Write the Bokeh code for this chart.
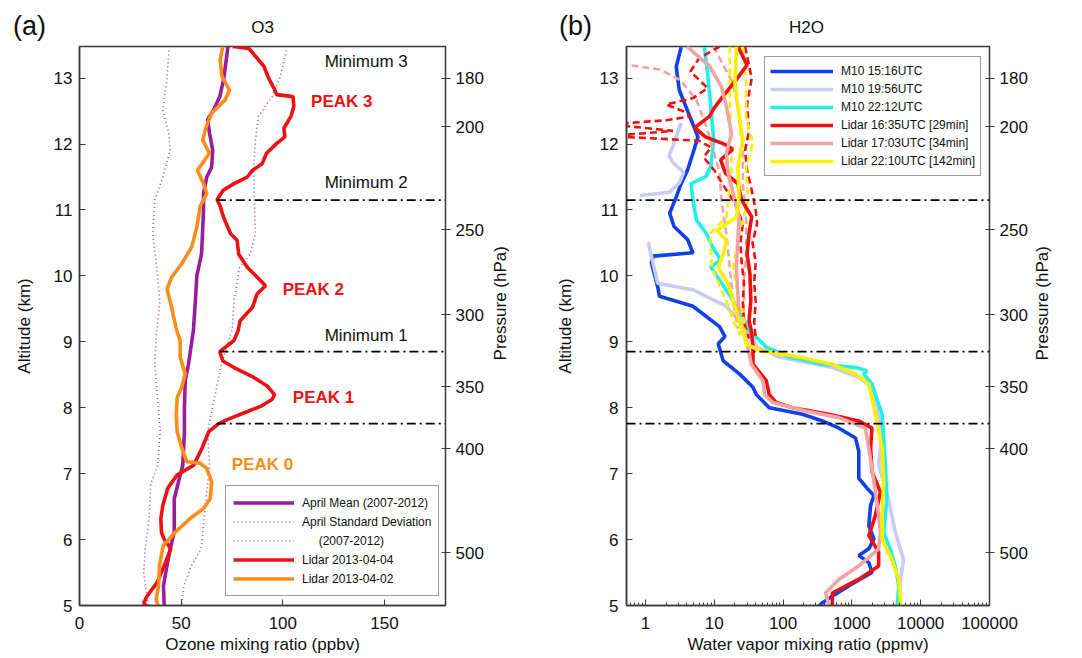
import math
from bokeh.plotting import figure
from bokeh.models import (LinearAxis, FixedTicker, Label, Legend, LegendItem,
                          PrintfTickFormatter, Range1d, Span)
from bokeh.layouts import row, column
from bokeh.embed import file_html
from bokeh.resources import INLINE

NaN = float("nan")

# ---------------- axis tick data ----------------
altitude_ticks = [5, 6, 7, 8, 9, 10, 11, 12, 13]
pressure_labels = [180, 200, 250, 300, 350, 400, 500]
pressure_alt_km = [13.0, 12.26, 10.70, 9.41, 8.32, 7.38, 5.80]
ozone_ticks = [0, 50, 100, 150]
h2o_ticks = [1, 10, 100, 1000, 10000, 100000]

# ---------------- panel (a): ozone, ppbv ----------------
mean_alt = [13.48, 13.0, 12.72, 12.52, 12.37, 12.16, 11.91, 11.65, 11.5, 11.25, 11.0, 10.64, 10.33,
            10.0, 9.62, 9.17, 8.66, 8.41, 8.0, 7.64, 7.13, 6.88, 6.62, 6.11, 5.86, 5.6, 5.3, 4.96]
mean_o3 = [73, 71, 69, 66, 63, 64, 65.5, 65, 62.6, 61, 61, 60.5, 60,
           57.7, 57, 56, 53.6, 52, 51.6, 51.6, 50.8, 48.7, 46.6, 46.6, 44.6, 43, 41.3, 41.7]

sd_lo_alt = [13.42, 13.0, 12.5, 12.16, 11.91, 11.5, 11.15, 10.64, 10.13, 9.6, 9.17, 8.66, 8.15,
             7.64, 7.13, 6.83, 6.37, 5.86, 5.5, 5.1, 4.96]
sd_lo_o3 = [44, 43, 41, 44, 44.6, 41, 37, 36, 38, 39.5, 38, 37, 38.4,
            39.7, 38.4, 35, 34.4, 32.3, 31.6, 33.3, 34]
sd_hi_alt = [13.42, 13.0, 12.72, 12.42, 12.06, 11.65, 11.15, 10.64, 10.33, 10.13, 9.62, 9.17, 8.66,
             8.15, 7.64, 7.13, 6.62, 6.11, 5.86, 5.6, 5.3, 4.96]
sd_hi_o3 = [101.8, 98.5, 94.7, 88, 86.5, 85.7, 86, 86.5, 84, 78.7, 76, 75, 69.7,
            66.4, 63, 64, 62.3, 60.6, 59.8, 55, 51.3, 50]

lidar0404_alt = [13.48, 13.45, 13.18, 13.0, 12.85, 12.75, 12.72, 12.57, 12.42, 12.24, 12.11, 12.01,
                 11.86, 11.7, 11.6, 11.5, 11.4, 11.3, 11.16, 11.05, 10.9, 10.64, 10.54, 10.33, 10.13,
                 9.98, 9.85, 9.73, 9.52, 9.32, 9.17, 9.02, 8.85, 8.71, 8.61, 8.46, 8.33, 8.2, 8.13,
                 8.02, 7.92, 7.82, 7.76, 7.64, 7.39, 7.13, 6.98, 6.78, 6.52, 6.32, 6.11, 6.01, 5.86,
                 5.6, 5.35, 5.14, 5.04, 4.96]
lidar0404_o3 = [75.4, 83.3, 90.7, 93, 95.6, 97, 105, 105.4, 104, 100.5, 101, 97,
                92, 89.8, 85, 82.5, 76, 70.7, 67.7, 69.3, 70.7, 74.3, 77.5, 78.3, 82.5,
                87.4, 91.5, 87.4, 85, 79, 78, 76, 69, 70.5, 76, 85.7, 92.3, 95.9, 94.8,
                89, 80.8, 72.6, 68.5, 63.6, 60.3, 56.2, 48, 43.4, 41, 40, 40.3, 41.6, 44.9,
                41.6, 38.2, 33.2, 31.6, 34]

lidar0402_alt = [13.48, 13.28, 13.03, 12.82, 12.67, 12.47, 12.26, 12.06, 11.86, 11.6, 11.4, 11.25,
                 11.05, 10.74, 10.44, 10.18, 9.98, 9.8, 9.52, 9.17, 9.02, 8.77, 8.51, 8.31, 8.15,
                 7.9, 7.64, 7.39, 7.18, 7.16, 7.08, 6.88, 6.62, 6.47, 6.32, 6.11, 5.91, 5.6, 5.3,
                 5.09, 4.96]
lidar0402_o3 = [70.5, 69.2, 70, 73.8, 71.6, 65, 62.3, 60.6, 63.9, 58, 61, 62.6,
                59.3, 57.7, 55.2, 50.2, 45.3, 43.1, 45.3, 47.8, 49.5, 49.5, 52, 50.3, 48,
                47.6, 48, 50.3, 52.8, 59.3, 62.6, 65, 64.3, 61, 54.4, 47, 41.2, 39.3, 38.9,
                37.7, 38.9]

# boundaries of the ozone layers (altitude, km) and the ozone value where the line starts
boundary_alt = [11.15, 8.85, 7.76]
boundary_o3 = [67.5, 68.8, 67.5]

# ---------------- panel (b): water vapour, ppmv ----------------
m10_1516_alt = [13.47, 13.17, 12.82, 12.42, 12.11, 11.86, 11.61, 11.4, 11.2, 10.95, 10.75, 10.55,
                10.35, 10.3, 10.2, 9.84, 9.69, 9.54, 9.23, 9.08, 8.97, 8.71, 8.51, 8.31, 8.2, 8.0,
                7.9, 7.8, 7.69, 7.54, 7.34, 6.93, 6.78, 6.67, 6.52, 6.21, 6.01, 5.86, 5.76, 5.65,
                5.5, 5.3, 5.14, 5.04, 4.97]
m10_1516_h2o = [3.3, 2.8, 3.1, 4.4, 5.8, 4.9, 4.1, 3.3, 2.8, 2.25, 2.6, 4.1,
                4.9, 1.3, 1.22, 1.5, 1.6, 4.9, 11.9, 14.3, 11.4, 13.5, 23.4, 36.5, 40.8, 63,
                192, 373, 650, 1130, 1260, 1260, 1660, 2090, 1870, 1760, 2090, 1760, 1260, 1760,
                1960, 910, 520, 373, 316]

m10_1956_alt = [12.32, 11.97, 11.82, 11.72, 11.57, 11.41, 11.27, 11.22, NaN, 10.51, 9.89, 9.79,
                9.54, 9.19, 9.07, 8.92, 8.77, 8.61, 8.46, 8.31, 7.64, 7.13, 6.62, 6.11, 5.7, 5.4,
                5.09, 4.97]
m10_1956_h2o = [3.3, 2.5, 2.2, 2.5, 3.6, 3.1, 2.25, 0.83, NaN, 1.1, 1.5, 4.9,
                14.8, 30, 36, 42, 88, 520, 1260, 1960, 2750, 2450, 3400, 4260, 5640, 5100,
                4800, 4800]

m10_2212_alt = [13.47, 13.07, 12.57, 12.06, 11.66, 11.51, 11.4, 11.15, 10.85, 10.65, 10.45, 10.24,
                10.14, 9.94, 9.64, 9.29, 9.17, 8.92, 8.77, 8.66, 8.61, 8.56, 8.51, 8.36, 7.9, 7.13,
                6.62, 6.11, 5.86, 5.6, 5.3, 4.99]
m10_2212_h2o = [7.2, 8.0, 8.9, 9.8, 8.9, 7.6, 4.6, 4.9, 5.5, 7.6, 9.3, 12.4,
                8.9, 11.8, 18.5, 28.7, 32.6, 57, 123, 373, 1130, 1660, 1490, 1960, 2750, 3060,
                3230, 2900, 3600, 4260, 4800, 4560]

lidar1635_alt = [13.48, 13.2, 12.95, 12.72, 12.55, 12.42, 12.25, 12.11, 12.0, 11.92, 11.76, 11.56,
                 11.4, 11.15, 10.9, 10.64, 10.33, 10.03, 9.62, 9.32, 9.17, 8.92, 8.66, 8.41, 8.2,
                 8.08, 8.0, 7.9, 7.8, 7.69, 7.39, 7.03, 6.72, 6.37, 6.06, 5.81, 5.6, 5.4, 5.19, 4.99]
lidar1635_h2o = [22, 30, 20, 13.3, 10, 8.5, 5.2, 7.4, 14, 18.5, 12.4, 14.5,
                 22, 25, 35, 32, 30, 33, 34, 32, 34.5, 36.5, 36.5, 57, 63,
                 79, 137, 465, 1260, 1960, 1870, 1960, 2600, 2200, 1760, 2450, 2450, 1260, 520, 520]
lidar1635_lo_alt = [13.48, 13.3, 13.1, 12.85, 12.7, 12.6, 12.5, 12.42, 12.36, 12.3, 12.2, 12.12,
                    12.05, 11.95, 11.8, 11.6, 11.35, 11.1, 10.8, 10.5, 10.2, 9.9, 9.6, 9.3, 9.05]
lidar1635_lo_h2o = [12, 6, 4.5, 8, 5, 2, 3.5, 4.5, 2, 0.3, 2.5, 0.3,
                    6, 9, 7, 10, 14, 20, 26, 24, 25, 27, 26, 27, 32]
lidar1635_hi_alt = [13.48, 13.0, 12.6, 12.2, 11.9, 11.6, 11.3, 11.0, 10.8, 10.5, 10.2, 9.9, 9.6,
                    9.3, 9.05]
lidar1635_hi_h2o = [28, 35, 30, 32, 28, 30, 35, 40, 42, 36, 40, 38, 40, 38, 40]

lidar1703_alt = [13.48, 13.18, 12.87, 12.57, 12.16, 11.86, 11.55, 11.25, 10.89, 10.54, 10.13, 9.73,
                 9.32, 9.17, 8.92, 8.66, 8.41, 8.2, 8.08, 7.95, 7.85, 7.69, 7.39, 6.88, 6.37, 6.11,
                 5.86, 5.6, 5.4, 5.19, 4.99]
lidar1703_h2o = [4.0, 8.6, 12.7, 15, 17.8, 15, 15.9, 18.8, 23, 22, 21, 22,
                 23, 26, 30.8, 34.5, 51, 54, 71, 214, 650, 1570, 1760, 2090, 2450, 2600,
                 2450, 1260, 650, 415, 465]
lidar1703_lo_alt = [13.23, 13.2, 13.13, 12.97, 12.67, 12.26, 11.91, 11.55, 11.15, 10.64, 10.13,
                    9.62, 9.2]
lidar1703_lo_h2o = [0.3, 0.56, 1.65, 3.2, 5.5, 7.7, 9.7, 12, 12.7, 15, 16.8, 18.8, 22]
lidar1703_hi_alt = [13.48, 12.92, 12.42, 11.91, 11.4, 10.89, 10.39, 9.88, 9.37, 9.1]
lidar1703_hi_h2o = [9.7, 18.8, 23, 26, 26, 29, 29, 27, 27, 30]

lidar2210_alt = [13.48, 12.92, 12.42, 12.06, 11.65, 11.15, 10.89, 10.69, 10.54, 10.33, 10.13, 9.88,
                 9.62, 9.32, 9.17, 8.97, 8.87, 8.77, 8.66, 8.51, 8.36, 7.9, 7.39, 6.88, 6.37, 6.01,
                 5.7, 5.4, 4.99]
lidar2210_h2o = [21, 20, 23, 26, 22, 23, 21, 10.8, 15, 13.5, 11.4, 15.9,
                 18.8, 23, 26, 29, 45, 172, 520, 1130, 1760, 2200, 2750, 2900, 2750, 2750,
                 3800, 4800, 5100]
lidar2210_lo_alt = [13.48, 12.67, 11.65, 10.89, 10.64, 10.13, 9.62, 9.32, 9.1]
lidar2210_lo_h2o = [16.8, 16.8, 17.8, 15, 8.6, 9.2, 15, 18.8, 24]
lidar2210_hi_alt = [13.48, 12.92, 12.42, 12.01, 11.65, 11.15, 10.64, 10.13, 9.62, 9.32, 9.1]
lidar2210_hi_h2o = [26, 29, 29, 36.5, 29, 31, 23, 18.8, 23, 27, 28]

# ---------------- styling ----------------
FONT = "Liberation Sans"
INK = "#111111"
AXIS = "#3a3a3a"
PURPLE = "#9b1d9b"
SDPURPLE = "#b545b5"
RED = "#ee1111"
ORANGE = "#ff8c1a"
BLUE = "#1040e8"
LAVENDER = "#c8cbf2"
CYAN = "#22eeee"
PINK = "#f4a3a3"
YELLOW = "#ffee00"

Y_RANGE = (5.0, 13.48)
HEAD_H = 44          # header strip with panel letter and title
MAIN_H = 614         # main plots
TOP, BOTTOM = 2, 53


def text_strip(width, height):
    """A blank svg canvas whose data units are pixels (y downward), for outside texts."""
    f = figure(width=width, height=height, x_range=Range1d(0, width), y_range=Range1d(height, 0),
               x_axis_location=None, y_axis_location=None, min_border=0,
               toolbar_location=None, output_backend="svg", outline_line_color=None)
    f.grid.visible = False
    f.background_fill_color = "white"
    f.border_fill_color = "white"
    return f


def text_label(p, **kw):
    args = dict(text_font=FONT, text_font_size="17px", text_color=INK,
                text_align="center", text_baseline="middle")
    args.update(kw)
    p.add_layout(Label(**args))


def base_axes(p):
    p.grid.visible = False
    p.outline_line_color = AXIS
    p.outline_line_width = 1.5
    p.background_fill_color = "white"
    p.border_fill_color = "white"
    for ax in (p.xaxis[0], p.yaxis[0]):
        ax.axis_line_color = AXIS
        ax.axis_line_width = 1.5
        ax.major_tick_line_color = AXIS
        ax.minor_tick_line_color = AXIS
        ax.major_tick_in = 6
        ax.major_tick_out = 0
        ax.minor_tick_in = 0
        ax.minor_tick_out = 0
        ax.major_label_text_font = FONT
        ax.major_label_text_font_size = "17px"
        ax.major_label_text_color = INK
        ax.axis_label_text_font = FONT
        ax.axis_label_text_font_size = "17px"
        ax.axis_label_text_font_style = "normal"
        ax.axis_label_text_color = INK
    p.yaxis[0].ticker = FixedTicker(ticks=altitude_ticks)
    p.yaxis[0].axis_label = "Altitude (km)"
    p.xaxis[0].major_label_standoff = 11
    p.xaxis[0].axis_label_standoff = 3
    # pressure axis on the right
    rax = LinearAxis(ticker=FixedTicker(ticks=pressure_alt_km),
                     major_label_overrides={a: str(v) for a, v in zip(pressure_alt_km, pressure_labels)})
    rax.axis_line_color = None
    rax.major_tick_line_color = AXIS
    rax.major_tick_in = 4
    rax.major_tick_out = 5
    rax.minor_tick_in = 0
    rax.minor_tick_out = 0
    rax.major_label_standoff = 5
    rax.major_label_text_font = FONT
    rax.major_label_text_font_size = "17px"
    rax.major_label_text_color = INK
    p.add_layout(rax, "right")


# ======== panel (a) ========
pa = figure(width=486, height=MAIN_H, x_range=Range1d(0, 180), y_range=Range1d(*Y_RANGE),
            output_backend="svg", toolbar_location=None,
            min_border_left=79, min_border_right=40, min_border_top=TOP, min_border_bottom=BOTTOM)
base_axes(pa)
pa.xaxis[0].ticker = FixedTicker(ticks=ozone_ticks)
pa.xaxis[0].axis_label = "Ozone mixing ratio (ppbv)"
pa.yaxis[0].major_label_standoff = 7
pa.yaxis[0].axis_label_standoff = 17

r_sdl = pa.line(sd_lo_o3, sd_lo_alt, line_color=SDPURPLE, line_width=1.6, line_dash="1 3")
r_sdh = pa.line(sd_hi_o3, sd_hi_alt, line_color=SDPURPLE, line_width=1.6, line_dash="1 3")
r_mean = pa.line(mean_o3, mean_alt, line_color=PURPLE, line_width=3.6)
r_0404 = pa.line(lidar0404_o3, lidar0404_alt, line_color=RED, line_width=3.6)
r_0402 = pa.line(lidar0402_o3, lidar0402_alt, line_color=ORANGE, line_width=3.6)

pa.segment(x0=boundary_o3, y0=boundary_alt, x1=[180] * len(boundary_alt), y1=boundary_alt,
           line_color="black", line_width=1.8, line_dash="9 4 2 4")

text_label(pa, x=141, y=13.26, text="Minimum 3")
text_label(pa, x=141, y=11.41, text="Minimum 2")
text_label(pa, x=141, y=9.1, text="Minimum 1")
text_label(pa, x=129, y=12.65, text="PEAK 3", text_color=RED, text_font_style="bold")
text_label(pa, x=115, y=9.8, text="PEAK 2", text_color=RED, text_font_style="bold")
text_label(pa, x=120, y=8.15, text="PEAK 1", text_color=RED, text_font_style="bold")
text_label(pa, x=90, y=7.14, text="PEAK 0", text_color=ORANGE, text_font_style="bold")

leg_a = Legend(items=[
    LegendItem(label="April Mean (2007-2012)", renderers=[r_mean]),
    LegendItem(label="April Standard Deviation", renderers=[r_sdl]),
    LegendItem(label="\u00a0" * 5 + "(2007-2012)", renderers=[r_sdh]),
    LegendItem(label="Lidar 2013-04-04", renderers=[r_0404]),
    LegendItem(label="Lidar 2013-04-02", renderers=[r_0402]),
], location=(146, 9), label_text_font=FONT, label_text_font_size="12px", label_text_color=INK,
    glyph_width=61, glyph_height=19, label_height=19, label_standoff=8, spacing=0, padding=7,
    margin=0, border_line_color="#333333", border_line_width=1.3, background_fill_alpha=1)
pa.add_layout(leg_a)

# ======== panel (b) ========
minor = [m * d for d in (0.1, 1, 10, 100, 1000, 10000) for m in range(2, 10)]
pb = figure(width=490, height=MAIN_H, x_axis_type="log", x_range=Range1d(0.53, 100000),
            y_range=Range1d(*Y_RANGE), output_backend="svg", toolbar_location=None,
            min_border_left=86, min_border_right=39, min_border_top=TOP, min_border_bottom=BOTTOM)
base_axes(pb)
pb.xaxis[0].ticker = FixedTicker(ticks=h2o_ticks, minor_ticks=minor)
pb.xaxis[0].formatter = PrintfTickFormatter(format="%d")
pb.xaxis[0].minor_tick_in = 3
pb.xaxis[0].axis_label = "Water vapor mixing ratio (ppmv)"
pb.yaxis[0].major_label_standoff = 8
pb.yaxis[0].axis_label_standoff = 22

r_b1 = pb.line(m10_1516_h2o, m10_1516_alt, line_color=BLUE, line_width=3.6)
r_b2 = pb.line(m10_1956_h2o, m10_1956_alt, line_color=LAVENDER, line_width=3.6)
r_b3 = pb.line(m10_2212_h2o, m10_2212_alt, line_color=CYAN, line_width=3.6)
for xs, ys, c in ((lidar1703_lo_h2o, lidar1703_lo_alt, PINK), (lidar1703_hi_h2o, lidar1703_hi_alt, PINK),
                  (lidar1635_lo_h2o, lidar1635_lo_alt, RED), (lidar1635_hi_h2o, lidar1635_hi_alt, RED),
                  (lidar2210_lo_h2o, lidar2210_lo_alt, YELLOW), (lidar2210_hi_h2o, lidar2210_hi_alt, YELLOW)):
    pb.line(xs, ys, line_color=c, line_width=2.6, line_dash="7 4")
r_l1 = pb.line(lidar1635_h2o, lidar1635_alt, line_color=RED, line_width=3.6)
r_l2 = pb.line(lidar1703_h2o, lidar1703_alt, line_color=PINK, line_width=3.6)
r_l3 = pb.line(lidar2210_h2o, lidar2210_alt, line_color=YELLOW, line_width=3.6)

for a in boundary_alt:
    pb.add_layout(Span(location=a, dimension="width", line_color="black", line_width=1.8,
                       line_dash="9 4 2 4"))

leg_b = Legend(items=[
    LegendItem(label="M10 15:16UTC", renderers=[r_b1]),
    LegendItem(label="M10 19:56UTC", renderers=[r_b2]),
    LegendItem(label="M10 22:12UTC", renderers=[r_b3]),
    LegendItem(label="Lidar 16:35UTC [29min]", renderers=[r_l1]),
    LegendItem(label="Lidar 17:03UTC [34min]", renderers=[r_l2]),
    LegendItem(label="Lidar 22:10UTC [142min]", renderers=[r_l3]),
], location=(138, 429), label_text_font=FONT, label_text_font_size="12px", label_text_color=INK,
    glyph_width=63, glyph_height=18, label_height=18, label_standoff=8, spacing=0, padding=5,
    margin=0, border_line_color="#333333", border_line_width=1.3, background_fill_alpha=1)
pb.add_layout(leg_b)

# ======== texts outside the plot frames ========
head_a = text_strip(540, HEAD_H)
text_label(head_a, x=29, y=25, text="(a)", text_font_size="27px")
text_label(head_a, x=262, y=27, text="O3")
head_b = text_strip(542, HEAD_H)
text_label(head_b, x=35, y=25, text="(b)", text_font_size="27px")
text_label(head_b, x=266, y=27, text="H2O")

side_a = text_strip(54, MAIN_H)
text_label(side_a, x=14, y=282, text="Pressure (hPa)", angle=math.pi / 2)
side_b = text_strip(52, MAIN_H)
text_label(side_b, x=12, y=282, text="Pressure (hPa)", angle=math.pi / 2)

layout = column(row(head_a, head_b), row(pa, side_a, pb, side_b))
open("out.html", "w").write(file_html(layout, INLINE))
